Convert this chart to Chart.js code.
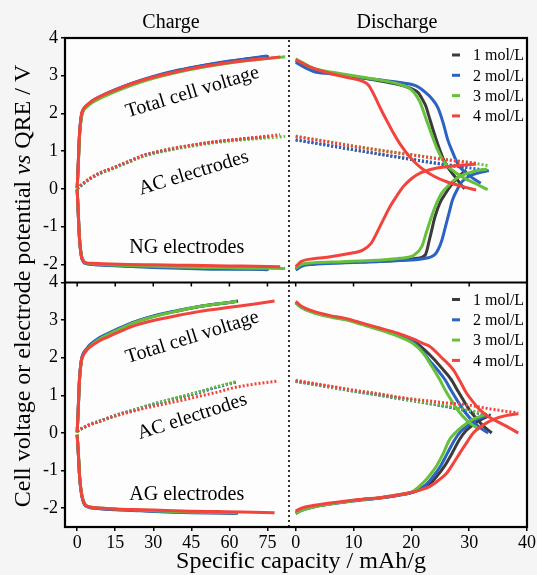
<!DOCTYPE html>
<html>
<head>
<meta charset="utf-8">
<script src="https://cdn.jsdelivr.net/npm/chart.js@4.4.1/dist/chart.umd.min.js"></script>
<style>
  html, body { margin: 0; padding: 0; background: #f5f5f5; }
  #wrap { width: 537px; height: 575px; }
</style>
</head>
<body>
<div id="wrap"><canvas id="chart" width="537" height="575"></canvas></div>
<script>
// concentrations, one colour each
const concentrations = ['1 mol/L', '2 mol/L', '3 mol/L', '4 mol/L'];
const colors = ['#3b3b3b', '#2b62c3', '#67c03b', '#f2443c'];

const xTicksCharge = [0, 15, 30, 45, 60, 75];
const xTicksDischarge = [0, 10, 20, 30, 40];
const yTicks = [-2, -1, 0, 1, 2, 3, 4];

// ---- top panel (NG electrodes) : charge ----  [capacity, potential]
const ngChgCell = [
  [[0,0.02],[0.4,0.6],[0.9,1.4],[1.6,1.9],[2.5,2.1],[3.5,2.18],[6,2.33],[10,2.47],[15,2.62],[22,2.8],[30,2.97],[40,3.14],[50,3.27],[60,3.38],[70,3.47],[75.5,3.51]],
  [[0,0.02],[0.4,0.62],[0.9,1.42],[1.6,1.92],[2.5,2.11],[3.5,2.19],[6,2.34],[10,2.48],[15,2.63],[22,2.81],[30,2.98],[40,3.15],[50,3.28],[60,3.39],[70,3.48],[75,3.52]],
  [[0,0],[0.4,0.55],[0.9,1.35],[1.6,1.85],[2.5,2.07],[3.5,2.15],[6,2.29],[10,2.43],[15,2.58],[22,2.76],[30,2.93],[40,3.1],[50,3.23],[60,3.34],[70,3.42],[76,3.46],[82,3.5]],
  [[0,0.03],[0.4,0.65],[0.9,1.45],[1.6,1.95],[2.5,2.12],[3.5,2.2],[6,2.34],[10,2.48],[15,2.62],[22,2.8],[30,2.96],[40,3.12],[50,3.25],[60,3.35],[70,3.43],[75,3.46],[80,3.5]]
];
const ngChgAC = [
  [[0,0],[2,0.12],[5,0.27],[9,0.42],[13,0.52],[20,0.72],[26,0.88],[35,1.03],[45,1.15],[55,1.25],[65,1.32],[75.5,1.39]],
  [[0,0],[2,0.11],[5,0.26],[9,0.41],[13,0.52],[20,0.71],[26,0.87],[35,1.02],[45,1.15],[55,1.25],[65,1.32],[75,1.38]],
  [[0,0.01],[2,0.12],[5,0.27],[9,0.41],[13,0.51],[20,0.7],[26,0.86],[35,1.01],[45,1.13],[55,1.23],[65,1.3],[75,1.35],[82,1.39]],
  [[0,0.02],[2,0.13],[5,0.28],[9,0.43],[13,0.53],[20,0.72],[26,0.89],[35,1.04],[45,1.16],[55,1.26],[65,1.33],[75,1.4],[80,1.44]]
];
const ngChgNG = [
  [[0,-0.02],[0.4,-0.6],[0.9,-1.3],[1.6,-1.75],[2.5,-1.92],[3.5,-1.97],[6,-1.99],[10,-2.01],[20,-2.04],[30,-2.06],[40,-2.08],[50,-2.1],[60,-2.11],[70,-2.12],[75.5,-2.13]],
  [[0,-0.02],[0.4,-0.62],[0.9,-1.32],[1.6,-1.77],[2.5,-1.94],[3.5,-1.98],[6,-2.0],[10,-2.02],[20,-2.05],[30,-2.08],[40,-2.1],[50,-2.12],[60,-2.13],[70,-2.13],[75,-2.14]],
  [[0,0],[0.4,-0.58],[0.9,-1.28],[1.6,-1.73],[2.5,-1.9],[3.5,-1.96],[6,-1.98],[10,-2.0],[20,-2.03],[30,-2.05],[40,-2.07],[50,-2.08],[60,-2.09],[70,-2.1],[76,-2.1],[82,-2.11]],
  [[0,-0.01],[0.4,-0.6],[0.9,-1.3],[1.6,-1.76],[2.5,-1.92],[3.5,-1.96],[6,-1.97],[10,-1.98],[20,-2.0],[30,-2.01],[40,-2.02],[50,-2.03],[60,-2.04],[70,-2.05],[80,-2.06]]
];

// ---- top panel (NG electrodes) : discharge ----
const ngDisCell = [
  [[0,3.4],[3,3.17],[6,3.08],[10,2.98],[14,2.88],[18,2.76],[20.3,2.64],[21.2,2.55],[22,2.35],[22.5,2.2],[23,1.95],[24,1.45],[25,1.0],[25.8,0.7],[27.5,0.33],[29.2,0.0]],
  [[0,3.35],[3,3.12],[6,3.05],[10,2.97],[14,2.9],[18,2.82],[21,2.72],[22.5,2.55],[23.5,2.4],[24.6,2.15],[25.5,1.75],[26.3,1.3],[27.2,0.95],[28,0.67],[29,0.48],[30.5,0.3],[32,0.15]],
  [[0,3.45],[3,3.2],[6,3.1],[10,3.0],[14,2.9],[18,2.77],[19.5,2.68],[20.5,2.55],[21.5,2.3],[22.6,1.83],[23.5,1.45],[24.5,1.05],[25.8,0.68],[27.5,0.45],[29,0.3],[31,0.15],[33.2,-0.02]],
  [[0,3.42],[3,3.2],[6,3.06],[9,2.95],[11.6,2.85],[12.6,2.75],[13.4,2.54],[14.2,2.28],[15.1,2.0],[16,1.74],[16.9,1.48],[18,1.2],[19.2,0.95],[20.5,0.72],[22,0.52],[24,0.33],[26.1,0.19],[28.5,0.08],[31.2,-0.03]]
];
const ngDisAC = [
  [[0,1.3],[5,1.17],[10,1.04],[15,0.91],[20,0.78],[25,0.66],[29.5,0.56]],
  [[0,1.3],[5,1.17],[10,1.04],[15,0.91],[20,0.79],[25,0.67],[29.5,0.57],[32.7,0.5]],
  [[0,1.4],[5,1.27],[10,1.14],[15,1.02],[20,0.91],[25,0.8],[30,0.7],[33.2,0.62]],
  [[0,1.39],[5,1.26],[10,1.13],[15,1.01],[20,0.9],[25,0.79],[31.2,0.68]]
];
const ngDisNG = [
  [[0,-2.12],[1,-2.02],[3,-1.98],[8,-1.95],[14,-1.92],[18,-1.89],[21,-1.84],[22.4,-1.75],[23.2,-1.3],[24.1,-0.73],[25,-0.35],[25.9,-0.12],[27,0.12],[28,0.3],[29.5,0.5]],
  [[0,-2.15],[1,-2.05],[3,-2.0],[8,-1.96],[14,-1.93],[18,-1.9],[22,-1.85],[24,-1.75],[24.6,-1.62],[25.3,-1.35],[25.9,-1.0],[26.5,-0.65],[27.1,-0.3],[28,0.0],[28.8,0.2],[30.5,0.37],[33.4,0.49]],
  [[0,-2.1],[1,-2.0],[3,-1.96],[8,-1.93],[14,-1.89],[18,-1.84],[20.5,-1.75],[21.8,-1.53],[22.6,-1.15],[23.5,-0.73],[24.3,-0.4],[25.2,-0.12],[26.5,0.1],[28,0.3],[30.5,0.45],[33.1,0.53]],
  [[0,-2.06],[1,-1.92],[3,-1.85],[6,-1.8],[9,-1.72],[11.6,-1.62],[13,-1.45],[14,-1.17],[15.2,-0.8],[16.3,-0.47],[17.5,-0.18],[18.6,0.06],[20,0.27],[21.5,0.42],[24,0.54],[26.1,0.59],[28.5,0.63],[31.2,0.66]]
];

// ---- bottom panel (AG electrodes) : charge ----
const agChgCell = [
  [[0,0.02],[0.4,0.6],[0.9,1.4],[1.6,1.9],[2.5,2.1],[3.5,2.2],[5,2.32],[8,2.48],[12,2.62],[17,2.78],[22,2.93],[30,3.1],[40,3.25],[50,3.38],[60,3.47],[63.4,3.51]],
  [[0,0.02],[0.4,0.62],[0.9,1.43],[1.6,1.93],[2.5,2.13],[3.5,2.22],[5,2.34],[8,2.5],[12,2.64],[17,2.8],[22,2.94],[30,3.11],[40,3.26],[50,3.38],[60,3.47],[63,3.5]],
  [[0,0.01],[0.4,0.58],[0.9,1.38],[1.6,1.88],[2.5,2.08],[3.5,2.18],[5,2.3],[8,2.46],[12,2.61],[17,2.77],[22,2.92],[30,3.09],[40,3.25],[50,3.38],[60,3.47],[63,3.5]],
  [[0,0.02],[0.4,0.6],[0.9,1.4],[1.6,1.9],[2.5,2.08],[3.5,2.18],[5,2.28],[8,2.42],[12,2.55],[17,2.7],[22,2.84],[30,2.99],[40,3.13],[50,3.25],[60,3.34],[70,3.43],[77.8,3.51]]
];
const agChgAC = [
  [[0,0.05],[2,0.12],[5,0.22],[8.9,0.31],[15,0.46],[22.2,0.6],[28,0.72],[35.2,0.85],[42,0.97],[48.3,1.08],[55,1.22],[61.5,1.33],[63,1.36]],
  [[0,0.06],[2,0.13],[5,0.23],[8.9,0.32],[15,0.47],[22.2,0.61],[28,0.73],[35.2,0.86],[42,0.98],[48.3,1.09],[55,1.22],[61.5,1.33],[63,1.36]],
  [[0,0.05],[2,0.12],[5,0.22],[8.9,0.31],[15,0.46],[22.2,0.61],[28,0.73],[35.2,0.86],[42,0.98],[48.3,1.1],[55,1.23],[61.5,1.34],[63,1.37]],
  [[0,0.05],[2,0.12],[5,0.22],[8.9,0.31],[15,0.45],[22.2,0.58],[28,0.68],[35.2,0.78],[42,0.88],[48.3,0.98],[55,1.08],[61.5,1.2],[70,1.3],[79,1.38]]
];
const agChgAG = [
  [[0,-0.05],[0.5,-0.6],[1,-1.2],[1.8,-1.65],[2.8,-1.88],[4.3,-1.96],[8,-2.0],[15,-2.03],[25,-2.06],[35,-2.09],[45,-2.11],[55,-2.12],[63.4,-2.13]],
  [[0,-0.05],[0.5,-0.62],[1,-1.22],[1.8,-1.67],[2.8,-1.9],[4.3,-1.97],[8,-2.01],[15,-2.04],[25,-2.07],[35,-2.1],[45,-2.12],[55,-2.13],[63,-2.14]],
  [[0,-0.04],[0.5,-0.58],[1,-1.18],[1.8,-1.63],[2.8,-1.86],[4.3,-1.95],[8,-1.99],[15,-2.02],[25,-2.05],[35,-2.08],[45,-2.1],[55,-2.11],[63,-2.12]],
  [[0,-0.05],[0.5,-0.6],[1,-1.2],[1.8,-1.65],[2.8,-1.88],[4.3,-1.96],[8,-1.99],[15,-2.02],[25,-2.04],[35,-2.06],[45,-2.08],[55,-2.09],[65,-2.1],[77.8,-2.12]]
];

// ---- bottom panel (AG electrodes) : discharge ----
const agDisCell = [
  [[0,3.48],[1,3.35],[3,3.22],[6,3.1],[8.8,3.02],[11.5,2.9],[14.5,2.77],[17.5,2.63],[20.3,2.45],[22,2.25],[23.8,1.98],[25.4,1.7],[26.9,1.42],[28.1,1.1],[29.2,0.82],[30.3,0.56],[31.5,0.34],[32.7,0.15],[33.9,0.0]],
  [[0,3.47],[1,3.34],[3,3.21],[6,3.1],[8.8,3.02],[11.5,2.9],[14.5,2.76],[17.5,2.61],[20.3,2.42],[21.5,2.25],[23,1.95],[24.4,1.7],[25.8,1.42],[27,1.1],[28.2,0.8],[29.3,0.55],[30.5,0.33],[31.8,0.15],[33.3,0.0]],
  [[0,3.46],[1,3.33],[3,3.2],[6,3.08],[8.8,3.0],[11.5,2.88],[14.5,2.74],[17.5,2.58],[20.3,2.38],[22,2.13],[23.5,1.78],[24.9,1.42],[26,1.1],[27.2,0.8],[28.3,0.55],[29.5,0.35],[30.7,0.2],[31.8,0.09]],
  [[0,3.5],[1,3.37],[3,3.24],[6,3.12],[8.8,3.04],[11.5,2.92],[14.5,2.79],[17.5,2.66],[20.3,2.5],[22,2.38],[23.2,2.3],[25,2.04],[27.2,1.69],[28.4,1.38],[29.5,1.07],[30.7,0.82],[31.8,0.62],[33.5,0.42],[35.3,0.27],[37,0.13],[38.5,0.0]]
];
const agDisAC = [
  [[0,1.38],[5,1.25],[10,1.12],[14.5,1.01],[18,0.92],[22,0.82],[26,0.71],[30,0.58],[33.9,0.46]],
  [[0,1.37],[5,1.24],[10,1.11],[14.5,1.0],[18,0.91],[22,0.81],[26,0.7],[30,0.58],[33.3,0.47]],
  [[0,1.38],[5,1.25],[10,1.12],[14.5,1.01],[18,0.92],[22,0.82],[26,0.72],[30,0.6],[32.5,0.52]],
  [[0,1.4],[5,1.27],[10,1.14],[14.5,1.04],[18,0.95],[22,0.87],[26,0.8],[29.5,0.75],[34,0.63],[38.5,0.53]]
];
const agDisAG = [
  [[0,-2.13],[1,-2.05],[3,-1.96],[6,-1.88],[8.8,-1.82],[11.5,-1.77],[14.5,-1.73],[17.5,-1.66],[20.3,-1.57],[23,-1.38],[24.3,-1.17],[25.7,-0.89],[27,-0.55],[28.3,-0.18],[29.4,0.05],[30.5,0.2],[31.8,0.33],[33.2,0.44]],
  [[0,-2.14],[1,-2.06],[3,-1.97],[6,-1.89],[8.8,-1.83],[11.5,-1.78],[14.5,-1.73],[17.5,-1.66],[20.3,-1.57],[22.5,-1.38],[23.7,-1.17],[25,-0.89],[26.2,-0.55],[27.5,-0.18],[28.6,0.05],[29.8,0.2],[31.2,0.35],[33,0.45]],
  [[0,-2.14],[1,-2.06],[3,-1.97],[6,-1.89],[8.8,-1.83],[11.5,-1.77],[14.5,-1.72],[17.5,-1.65],[20.3,-1.55],[22,-1.33],[23.2,-1.12],[24.3,-0.89],[25.5,-0.55],[26.6,-0.18],[27.7,0.02],[28.9,0.18],[30.5,0.35],[33,0.5]],
  [[0,-2.08],[1,-2.0],[3,-1.93],[6,-1.86],[8.8,-1.81],[11.5,-1.76],[14.5,-1.72],[17.5,-1.65],[20.3,-1.57],[21.5,-1.52],[23.2,-1.42],[24.6,-1.27],[26.1,-1.07],[27.3,-0.8],[28.4,-0.53],[29.6,-0.25],[30.7,0.0],[32.3,0.2],[34.2,0.36],[36.3,0.46],[38.5,0.51]]
];

// text labels placed in data units of their panel
const panelNotes = [
  { text: 'Total cell voltage', x: 45.4, y: 2.56, yAxis: 'yt', rot: -17 },
  { text: 'AC electrodes', x: 45.9, y: 0.42, yAxis: 'yt', rot: -17 },
  { text: 'NG electrodes', x: 43.2, y: -1.56, yAxis: 'yt', rot: 0 },
  { text: 'Total cell voltage', x: 45.4, y: 2.54, yAxis: 'yb', rot: -17.5 },
  { text: 'AC electrodes', x: 45.4, y: 0.43, yAxis: 'yb', rot: -18 },
  { text: 'AG electrodes', x: 43.2, y: -1.65, yAxis: 'yb', rot: 0 }
];

const serif = "'Liberation Serif', 'Times New Roman', serif";

const datasets = [];
function addCurves(group, xAxisID, yAxisID, dotted) {
  group.forEach((pts, i) => {
    datasets.push({
      label: concentrations[i],
      data: pts.map(p => ({ x: p[0], y: p[1] })),
      xAxisID, yAxisID,
      borderColor: colors[i],
      borderWidth: 3,
      borderDash: dotted ? [2, 2] : [],
      pointRadius: 0,
      fill: false,
      cubicInterpolationMode: 'monotone',
      order: 3 - i
    });
  });
}
addCurves(ngChgCell, 'xc', 'yt', false);
addCurves(ngChgNG, 'xc', 'yt', false);
addCurves(ngChgAC, 'xc', 'yt', true);
addCurves(ngDisCell, 'xd', 'yt', false);
addCurves(ngDisNG, 'xd', 'yt', false);
addCurves(ngDisAC, 'xd', 'yt', true);
addCurves(agChgCell, 'xc', 'yb', false);
addCurves(agChgAG, 'xc', 'yb', false);
addCurves(agChgAC, 'xc', 'yb', true);
addCurves(agDisCell, 'xd', 'yb', false);
addCurves(agDisAG, 'xd', 'yb', false);
addCurves(agDisAC, 'xd', 'yb', true);

const tickGrid = { display: true, drawOnChartArea: false, drawTicks: true, tickLength: 4, color: '#000', lineWidth: 1.5 };

function xAxis(min, max, ticks, weight, stackWeight) {
  return {
    type: 'linear', position: 'bottom', stack: 'x', stackWeight, weight, min, max,
    afterBuildTicks: s => { s.ticks = ticks.map(v => ({ value: v })); },
    afterFit: s => { s.height = 30; },
    grid: tickGrid,
    border: { display: false },
    ticks: { font: { family: serif, size: 18 }, color: '#000', padding: 1, maxRotation: 0, autoSkip: false }
  };
}
function yAxis(min, max, weight) {
  return {
    type: 'linear', position: 'left', stack: 'y', stackWeight: 1, weight, min, max,
    afterBuildTicks: s => { s.ticks = yTicks.map(v => ({ value: v })); },
    afterFit: s => { s.width = 30; },
    grid: tickGrid,
    border: { display: false },
    ticks: { font: { family: serif, size: 18 }, color: '#000', padding: 3, autoSkip: false }
  };
}

// frame, separators, titles, legends and labels
const decor = {
  id: 'decor',
  beforeDraw(chart) {
    const { ctx, chartArea: a } = chart;
    ctx.save();
    ctx.fillStyle = '#f5f5f5';
    ctx.fillRect(0, 0, chart.width, chart.height);
    ctx.fillStyle = '#fdfdfd';
    ctx.fillRect(a.left, a.top, a.right - a.left, a.bottom - a.top);
    ctx.restore();
  },
  afterDatasetsDraw(chart) {
    const { ctx, chartArea: a, scales } = chart;
    const { xc, xd, yt, yb } = scales;
    ctx.save();
    ctx.strokeStyle = '#000';
    ctx.lineWidth = 2.2;
    ctx.strokeRect(a.left, a.top, a.right - a.left, a.bottom - a.top);
    const midY = yt.bottom;
    ctx.beginPath(); ctx.moveTo(a.left, midY); ctx.lineTo(a.right, midY); ctx.stroke();

    // tick marks under the upper panel
    ctx.lineWidth = 1.5;
    ctx.beginPath();
    xTicksCharge.forEach(v => { const px = xc.getPixelForValue(v); ctx.moveTo(px, midY); ctx.lineTo(px, midY + 4); });
    xTicksDischarge.forEach(v => { const px = xd.getPixelForValue(v); ctx.moveTo(px, midY); ctx.lineTo(px, midY + 4); });
    ctx.stroke();

    // dotted charge/discharge divider
    const sepX = xc.right;
    ctx.setLineDash([2, 3]);
    ctx.lineWidth = 1.6;
    ctx.beginPath(); ctx.moveTo(sepX, a.top + 2); ctx.lineTo(sepX, a.bottom); ctx.stroke();
    ctx.setLineDash([]);

    ctx.fillStyle = '#000';
    // titles
    ctx.font = `20px ${serif}`;
    ctx.textAlign = 'center';
    ctx.textBaseline = 'alphabetic';
    ctx.fillText('Charge', xc.getPixelForValue(37), 28);
    ctx.fillText('Discharge', xd.getPixelForValue(17.5), 28);

    // curve labels
    ctx.textBaseline = 'middle';
    panelNotes.forEach(n => {
      const px = xc.getPixelForValue(n.x);
      const py = scales[n.yAxis].getPixelForValue(n.y);
      ctx.save();
      ctx.translate(px, py);
      ctx.rotate(n.rot * Math.PI / 180);
      ctx.fillText(n.text, 0, 0);
      ctx.restore();
    });

    // legends
    ctx.font = `16px ${serif}`;
    ctx.textAlign = 'left';
    [yt, yb].forEach(ys => {
      concentrations.forEach((c, i) => {
        const py = ys.top + 17 + 20.3 * i;
        ctx.strokeStyle = colors[i];
        ctx.lineWidth = 3;
        ctx.beginPath(); ctx.moveTo(a.right - 75, py); ctx.lineTo(a.right - 67, py); ctx.stroke();
        ctx.fillText(c, a.right - 54, py + 1);
      });
    });

    // axis titles
    ctx.font = `24px ${serif}`;
    ctx.textAlign = 'center';
    ctx.textBaseline = 'alphabetic';
    ctx.fillText('Specific capacity / mAh/g', 301, 568);

    const partA = 'Cell voltage or electrode potential ';
    const partB = 'vs';
    const partC = ' QRE / V';
    const fN = `24px ${serif}`, fI = `italic 24px ${serif}`;
    ctx.font = fN; const wA = ctx.measureText(partA).width; const wC = ctx.measureText(partC).width;
    ctx.font = fI; const wB = ctx.measureText(partB).width;
    const total = wA + wB + wC;
    ctx.translate(30, 286);
    ctx.rotate(-Math.PI / 2);
    ctx.textAlign = 'left';
    let x0 = -total / 2;
    ctx.font = fN; ctx.fillText(partA, x0, 0); x0 += wA;
    ctx.font = fI; ctx.fillText(partB, x0, 0); x0 += wB;
    ctx.font = fN; ctx.fillText(partC, x0, 0);
    ctx.restore();
  }
};

new Chart(document.getElementById('chart'), {
  type: 'line',
  data: { datasets },
  options: {
    responsive: false,
    animation: false,
    devicePixelRatio: 1,
    layout: { padding: { left: 35, right: 10, top: 38, bottom: 18 } },
    plugins: { legend: { display: false }, tooltip: { enabled: false } },
    scales: {
      xc: xAxis(-4.8, 83.5, xTicksCharge, 0, 224),
      xd: xAxis(-1.16, 40, xTicksDischarge, 1, 238),
      yt: yAxis(-2.48, 4, 1),
      yb: yAxis(-2.5, 4, 0)
    }
  },
  plugins: [decor]
});
</script>
</body>
</html>
